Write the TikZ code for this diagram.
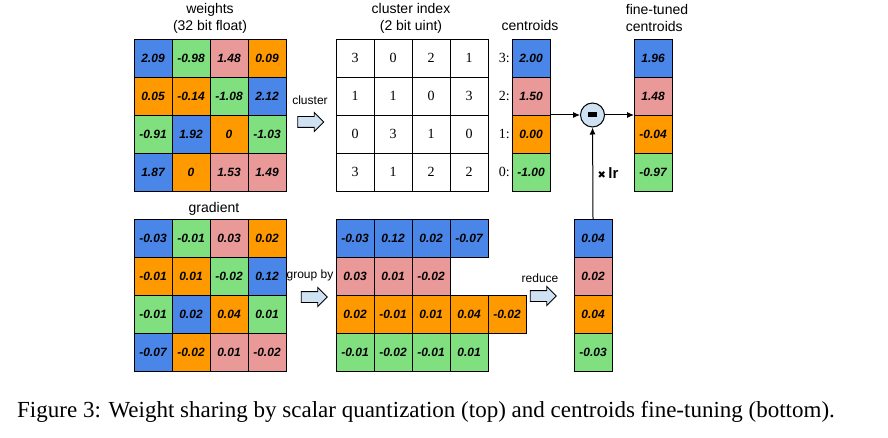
\documentclass[tikz,border=0pt]{standalone}
\usepackage{fontspec}
\setmainfont{Liberation Serif}
\setsansfont{Liberation Sans}
\newfontfamily\symfont{DejaVu Sans}
\usetikzlibrary{positioning}
\usetikzlibrary{arrows.meta}
\usetikzlibrary{shapes.arrows}
\definecolor{cB}{HTML}{4A86E8}
\definecolor{cG}{HTML}{80E080}
\definecolor{cP}{HTML}{EA9999}
\definecolor{cO}{HTML}{FF9900}
\definecolor{cL}{HTML}{CFE2F3}
\tikzset{
    cell/.style={draw, line width=0.9pt, minimum size=38pt, inner sep=0pt, outer sep=0pt,
        font=\sffamily\bfseries\itshape\fontsize{12}{14}\selectfont},
    idxcell/.style={cell, font=\rmfamily\fontsize{14}{16}\selectfont},
    idxlabel/.style={inner sep=0pt, font=\rmfamily\fontsize{14}{16}\selectfont},
    title/.style={align=center, inner sep=0pt, font=\sffamily\fontsize{14}{17}\selectfont},
    smalltext/.style={inner sep=0pt, font=\sffamily\fontsize{12}{14}\selectfont},
    hollow/.style={single arrow, draw, line width=0.9pt, fill=cL, minimum height=26pt,
        minimum width=18pt, single arrow head extend=4pt, inner sep=5pt},
    minus/.style={circle, draw, line width=1pt, fill=cL, minimum size=24pt, inner sep=0pt},
    conn/.style={line width=1pt, -{Latex[length=7pt,width=6pt]}}
}

\begin{document}
\begin{tikzpicture}[x=1pt, y=-1pt]
    \useasboundingbox (0,0) rectangle (888,438);

    % Weights -- 4x4 cells coloured by cluster
    \foreach \row [count=\ri from 0] in {{cB/2.09,cG/-0.98,cP/1.48,cO/0.09},
            {cO/0.05,cO/-0.14,cG/-1.08,cB/2.12},
            {cG/-0.91,cB/1.92,cO/0,cG/-1.03},
            {cB/1.87,cO/0,cP/1.53,cP/1.49}} {
        \foreach \clr/\v [count=\ci from 0] in \row {
            \node[cell, fill=\clr] (w-\ri-\ci) at (153+38*\ci, 58+38*\ri) {\v};
        }
    }
    \node[title] (t-w) at (210, 18) {weights\\(32 bit float)};

    % Cluster index -- 4x4 white cells
    \foreach \row [count=\ri from 0] in {{3,0,2,1},{1,1,0,3},{0,3,1,0},{3,1,2,2}} {
        \foreach \v [count=\ci from 0] in \row {
            \node[idxcell] (i-\ri-\ci) at (355+38*\ci, 58+38*\ri) {\v};
        }
    }
    \node[title] (t-i) at (411, 18) {cluster index\\(2 bit uint)};

    % Centroids and fine-tuned centroids
    \foreach \clr/\v/\k [count=\ri from 0] in {cB/2.00/3,cP/1.50/2,cO/0.00/1,cG/-1.00/0} {
        \node[cell, fill=\clr] (c-\k) at (531, 58+38*\ri) {\v};
        \node[idxlabel, left=2pt of c-\k] (cl-\k) {\k:};
    }
    \node[title] (t-c) at (530, 26) {centroids};
    \foreach \clr/\v/\k [count=\ri from 0] in {cB/1.96/3,cP/1.48/2,cO/-0.04/1,cG/-0.97/0} {
        \node[cell, fill=\clr] (f-\k) at (653, 58+38*\ri) {\v};
    }
    \node[title, align=left] (t-f) at (657, 18) {fine-tuned\\centroids};

    % Gradient -- 4x4 cells, same colours as the weights
    \foreach \row [count=\ri from 0] in {{cB/-0.03,cG/-0.01,cP/0.03,cO/0.02},
            {cO/-0.01,cO/0.01,cG/-0.02,cB/0.12},
            {cG/-0.01,cB/0.02,cO/0.04,cG/0.01},
            {cB/-0.07,cO/-0.02,cP/0.01,cP/-0.02}} {
        \foreach \clr/\v [count=\ci from 0] in \row {
            \node[cell, fill=\clr] (g-\ri-\ci) at (153+38*\ci, 238+38*\ri) {\v};
        }
    }
    \node[title] (t-g) at (214, 209) {gradient};

    % Gradient grouped by cluster, one row per centroid
    \foreach \v [count=\ci from 0] in {-0.03,0.12,0.02,-0.07}
        \node[cell, fill=cB] (gb-3-\ci) at (355+38*\ci, 238) {\v};
    \foreach \v [count=\ci from 0] in {0.03,0.01,-0.02}
        \node[cell, fill=cP] (gb-2-\ci) at (355+38*\ci, 276) {\v};
    \foreach \v [count=\ci from 0] in {0.02,-0.01,0.01,0.04,-0.02}
        \node[cell, fill=cO] (gb-1-\ci) at (355+38*\ci, 314) {\v};
    \foreach \v [count=\ci from 0] in {-0.01,-0.02,-0.01,0.01}
        \node[cell, fill=cG] (gb-0-\ci) at (355+38*\ci, 352) {\v};

    % Reduced gradient per centroid
    \foreach \clr/\v/\k [count=\ri from 0] in {cB/0.04/3,cP/0.02/2,cO/0.04/1,cG/-0.03/0} {
        \node[cell, fill=\clr] (r-\k) at (593, 238+38*\ri) {\v};
    }

    % Block arrows with their labels
    \node[hollow] (ar-cl) at (308, 122) {};
    \node[smalltext] (t-cl) at (310, 100) {cluster};
    \node[hollow] (ar-gb) at (311.5, 297) {};
    \node[smalltext] (t-gb) at (310, 275) {group by};
    \node[hollow] (ar-rd) at (540.5, 296) {};
    \node[smalltext] (t-rd) at (540, 278) {reduce};

    % Subtract lr times the reduced gradient
    \node[minus] (mn) at (592.5, 115) {\rule{9pt}{5pt}};
    \node[inner sep=0pt, font=\sffamily\bfseries\fontsize{15}{17}\selectfont] (lr) at (608, 173)
        {{\symfont\fontsize{10}{10}\selectfont ✖}\,lr};
    \draw[conn] (c-1.north east) -- (mn);
    \draw[conn] (mn) -- (f-1.north west);
    \draw[conn] (r-3.north) -- (mn);

    % Caption
    \node[anchor=base west, inner sep=0pt, font=\rmfamily\fontsize{23}{26}\selectfont] (cap) at (17, 417)
        {Figure 3: Weight sharing by scalar quantization (top) and centroids fine-tuning (bottom).};
\end{tikzpicture}
\end{document}
